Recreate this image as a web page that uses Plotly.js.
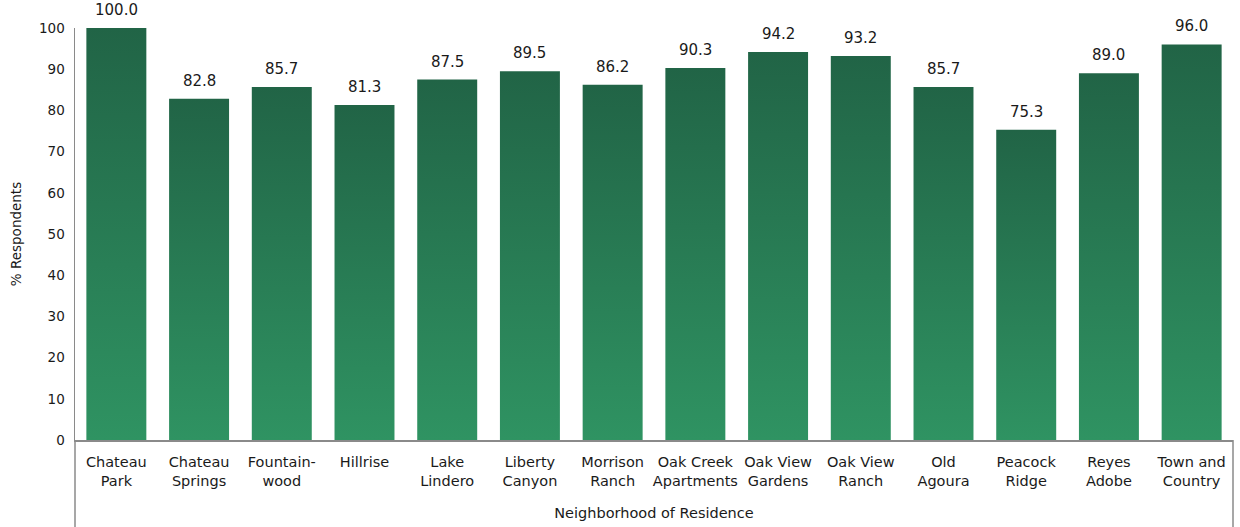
<!DOCTYPE html>
<html>
<head>
<meta charset="utf-8">
<script src="https://cdn.plot.ly/plotly-3.0.1.min.js"></script>
<style>
  html, body { margin: 0; padding: 0; background: #ffffff; }
  #chart { width: 1240px; height: 527px; }
</style>
</head>
<body>
<div id="chart"></div>
<script>
// Neighborhood names (tick labels, broken over two lines)
const neighborhoods = [
  "Chateau<br>Park", "Chateau<br>Springs", "Fountain-<br>wood", "Hillrise",
  "Lake<br>Lindero", "Liberty<br>Canyon", "Morrison<br>Ranch", "Oak Creek<br>Apartments",
  "Oak View<br>Gardens", "Oak View<br>Ranch", "Old<br>Agoura", "Peacock<br>Ridge",
  "Reyes<br>Adobe", "Town and<br>Country"
];

// Share of respondents per neighborhood (%)
const respondentPct = [100.0, 82.8, 85.7, 81.3, 87.5, 89.5, 86.2, 90.3, 94.2, 93.2, 85.7, 75.3, 89.0, 96.0];

// Y-axis ticks
const yTicks = [0, 10, 20, 30, 40, 50, 60, 70, 80, 90, 100];

const FONT = "DejaVu Sans, Verdana, sans-serif";
const AXIS_GREY = "#8a8a8a";
const TEXT = "#1a1a1a";

const trace = {
  type: "bar",
  x: neighborhoods,
  y: respondentPct,
  marker: { color: "#287a52", line: { width: 0 } },
  hoverinfo: "x+y"
};

// Value labels floated a little above each bar
const valueLabels = neighborhoods.map((n, i) => ({
  x: n,
  y: respondentPct[i],
  xref: "x",
  yref: "y",
  text: respondentPct[i].toFixed(1),
  showarrow: false,
  yanchor: "bottom",
  yshift: 7,
  font: { family: FONT, size: 15, color: TEXT }
}));

const layout = {
  width: 1240,
  height: 527,
  margin: { l: 75, r: 7, t: 28, b: 87 },
  paper_bgcolor: "#ffffff",
  plot_bgcolor: "#ffffff",
  bargap: 0.275,
  showlegend: false,
  font: { family: FONT, color: TEXT },
  xaxis: {
    type: "category",
    showgrid: false,
    zeroline: false,
    showline: true,
    linecolor: AXIS_GREY,
    linewidth: 1.5,
    ticks: "",
    ticklabelstandoff: 8,
    tickfont: { family: FONT, size: 14.5, color: TEXT },
    title: { text: "Neighborhood of Residence", font: { family: FONT, size: 14.5, color: TEXT }, standoff: 20 }
  },
  yaxis: {
    range: [0, 100],
    tickvals: yTicks,
    showgrid: false,
    zeroline: false,
    showline: true,
    linecolor: AXIS_GREY,
    linewidth: 1.5,
    ticks: "",
    ticklabelstandoff: 6,
    tickfont: { family: FONT, size: 13.5, color: TEXT },
    title: { text: "% Respondents", font: { family: FONT, size: 13.5, color: TEXT }, standoff: 14 }
  },
  annotations: valueLabels,
  shapes: [
    // left and right edges of the category box, running down past the labels
    { type: "line", xref: "paper", yref: "paper", x0: 0, x1: 0, y0: 0, y1: -0.3, line: { color: AXIS_GREY, width: 1.5 } },
    { type: "line", xref: "paper", yref: "paper", x0: 1, x1: 1, y0: 0, y1: -0.3, line: { color: AXIS_GREY, width: 1.5 } }
  ]
};

Plotly.newPlot("chart", [trace], layout, { displayModeBar: false, staticPlot: true }).then(gd => {
  // Vertical green gradient on each bar: dark at the top, lighter at the base
  const svg = gd.querySelector(".main-svg");
  const ns = "http://www.w3.org/2000/svg";
  let defs = svg.querySelector("defs");
  if (!defs) { defs = document.createElementNS(ns, "defs"); svg.insertBefore(defs, svg.firstChild); }
  const grad = document.createElementNS(ns, "linearGradient");
  grad.setAttribute("id", "barGreen");
  grad.setAttribute("x1", "0"); grad.setAttribute("y1", "0");
  grad.setAttribute("x2", "0"); grad.setAttribute("y2", "1");
  [["0%", "#216446"], ["100%", "#2f9362"]].forEach(([off, col]) => {
    const s = document.createElementNS(ns, "stop");
    s.setAttribute("offset", off);
    s.setAttribute("stop-color", col);
    grad.appendChild(s);
  });
  defs.appendChild(grad);
  gd.querySelectorAll(".bars .point path").forEach(p => {
    p.style.fill = "url(#barGreen)";
  });
});
</script>
</body>
</html>
